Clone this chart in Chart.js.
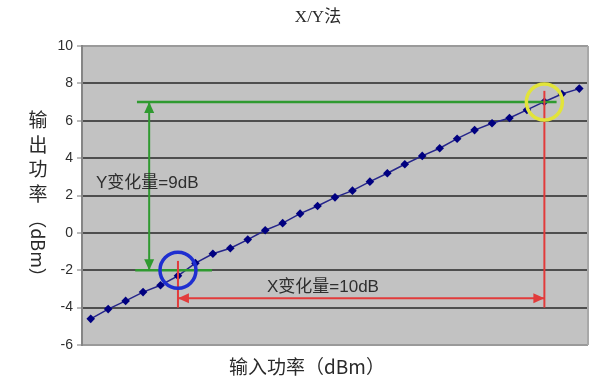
<!DOCTYPE html>
<html>
<head>
<meta charset="utf-8">
<script src="https://cdn.jsdelivr.net/npm/chart.js@4"></script>
<style>
  html, body { margin: 0; padding: 0; background: #fff; }
  #wrap { width: 593px; height: 387px; position: relative; }
</style>
</head>
<body>
<div id="wrap"><canvas id="chart"></canvas></div>
<script>
// ── Data ─────────────────────────────────────────────────
const inputPower = ['-5', '-4.5', '-4', '-3.5', '-3', '-2.5', '-2', '-1.5', '-1', '-0.5',
  '0', '0.5', '1', '1.5', '2', '2.5', '3', '3.5', '4', '4.5',
  '5', '5.5', '6', '6.5', '7', '7.5', '8', '8.5', '9'];
const outputPower = [-4.60, -4.08, -3.64, -3.17, -2.80, -2.30, -1.62, -1.12, -0.82, -0.36,
  0.14, 0.52, 1.03, 1.44, 1.90, 2.26, 2.74, 3.19, 3.67, 4.12,
  4.53, 5.04, 5.50, 5.87, 6.15, 6.58, 7.02, 7.43, 7.72];
const yMin = -6, yMax = 10, yStep = 2;

const chartTitle = 'X/Y法';
const xTitle = '输入功率（dBm）';
const yTitleChars = ['输', '出', '功', '率'];
const yTitleUnit = '（dBm）';

// ── Annotations (x in category index, y in dBm) ─────────
const marks = [
  { x: 5, y: -2, color: '#1f2fd0' },
  { x: 26, y: 7, color: '#e2e43a' }
];
const greenLines = [
  [2.65, 7, 26.7, 7],
  [2.55, -2, 6.95, -2]
];
const greenArrow = [3.35, 7, 3.35, -2];
const redLines = [
  [26, 7.6, 26, -4],
  [5, -1.5, 5, -4]
];
const redArrow = [5, -3.5, 26, -3.5];
const notes = [
  { text: 'Y变化量=9dB', x: 0.3, y: 2.67 },
  { text: 'X变化量=10dB', x: 10.1, y: -2.9 }
];

const SANS = '"Liberation Sans", "Noto Sans CJK SC", sans-serif';

function arrowHead(ctx, x1, y1, x2, y2, len, half) {
  const a = Math.atan2(y2 - y1, x2 - x1);
  ctx.beginPath();
  ctx.moveTo(x2, y2);
  ctx.lineTo(x2 - len * Math.cos(a) + half * Math.sin(a), y2 - len * Math.sin(a) - half * Math.cos(a));
  ctx.lineTo(x2 - len * Math.cos(a) - half * Math.sin(a), y2 - len * Math.sin(a) + half * Math.cos(a));
  ctx.closePath();
  ctx.fill();
}

function seg(ctx, xs, ys, l) {
  ctx.beginPath();
  ctx.moveTo(xs.getPixelForValue(l[0]), ys.getPixelForValue(l[1]));
  ctx.lineTo(xs.getPixelForValue(l[2]), ys.getPixelForValue(l[3]));
  ctx.stroke();
}

function doubleArrow(ctx, xs, ys, l) {
  const x1 = xs.getPixelForValue(l[0]), y1 = ys.getPixelForValue(l[1]);
  const x2 = xs.getPixelForValue(l[2]), y2 = ys.getPixelForValue(l[3]);
  ctx.beginPath();
  ctx.moveTo(x1, y1);
  ctx.lineTo(x2, y2);
  ctx.stroke();
  arrowHead(ctx, x1, y1, x2, y2, 11, 5);
  arrowHead(ctx, x2, y2, x1, y1, 11, 5);
}

// ── Plugins ──────────────────────────────────────────────
const plotBg = {
  id: 'plotBg',
  beforeDraw(chart) {
    const { ctx, chartArea: a } = chart;
    ctx.save();
    ctx.fillStyle = '#c2c2c2';
    ctx.fillRect(a.left, a.top, a.right - a.left, a.bottom - a.top);
    ctx.restore();
  },
  afterDraw(chart) {
    const { ctx, chartArea: a } = chart;
    ctx.save();
    ctx.strokeStyle = '#a8a8a8';
    ctx.lineWidth = 2;
    ctx.beginPath();
    ctx.moveTo(a.right, a.top);
    ctx.lineTo(a.right, a.bottom);
    ctx.stroke();
    ctx.restore();
  }
};

const annotations = {
  id: 'annotations',
  afterDatasetsDraw(chart) {
    const { ctx } = chart;
    const xs = chart.scales.x, ys = chart.scales.y;
    ctx.save();

    // green
    ctx.strokeStyle = '#2f9a30';
    ctx.fillStyle = '#2f9a30';
    ctx.lineWidth = 2.5;
    greenLines.forEach(l => seg(ctx, xs, ys, l));
    ctx.lineWidth = 2;
    doubleArrow(ctx, xs, ys, greenArrow);

    // red
    ctx.strokeStyle = '#e23b3b';
    ctx.fillStyle = '#e23b3b';
    ctx.lineWidth = 2;
    redLines.forEach(l => seg(ctx, xs, ys, l));
    doubleArrow(ctx, xs, ys, redArrow);

    // circles
    marks.forEach(m => {
      ctx.beginPath();
      ctx.strokeStyle = m.color;
      ctx.lineWidth = 3.5;
      ctx.arc(xs.getPixelForValue(m.x), ys.getPixelForValue(m.y), 18, 0, Math.PI * 2);
      ctx.stroke();
    });

    // notes
    ctx.fillStyle = '#2e2e2e';
    ctx.font = '17px ' + SANS;
    ctx.textAlign = 'left';
    ctx.textBaseline = 'middle';
    notes.forEach(n => ctx.fillText(n.text, xs.getPixelForValue(n.x), ys.getPixelForValue(n.y)));
    ctx.restore();
  }
};

const titles = {
  id: 'titles',
  afterDraw(chart) {
    const { ctx } = chart;
    ctx.save();
    ctx.fillStyle = '#2a2a2a';
    ctx.textAlign = 'center';
    ctx.textBaseline = 'middle';

    ctx.font = '17px "Liberation Serif", "Noto Sans CJK SC", serif';
    ctx.fillText(chartTitle, 318, 18);

    ctx.font = '19px "Noto Sans CJK SC", sans-serif';
    ctx.fillText(xTitle, 307, 367);

    yTitleChars.forEach((c, i) => ctx.fillText(c, 38, 120 + i * 24.5));
    ctx.translate(38, 248);
    ctx.rotate(Math.PI / 2);
    ctx.font = '18px "Noto Sans CJK SC", sans-serif';
    ctx.fillText(yTitleUnit, 0, 0);
    ctx.restore();
  }
};

// ── Chart ───────────────────────────────────────────────
new Chart(document.getElementById('chart'), {
  type: 'line',
  data: {
    labels: inputPower,
    datasets: [{
      data: outputPower,
      borderColor: '#25258a',
      borderWidth: 1.5,
      backgroundColor: '#000080',
      pointStyle: 'rectRot',
      pointRadius: 4.3,
      pointBorderWidth: 0,
      tension: 0
    }]
  },
  options: {
    responsive: true,
    maintainAspectRatio: false,
    animation: false,
    events: [],
    layout: { padding: { top: 46, right: 5, bottom: 42, left: 0 } },
    plugins: {
      legend: { display: false },
      tooltip: { enabled: false }
    },
    scales: {
      x: {
        type: 'category',
        display: false,
        offset: true
      },
      y: {
        min: yMin,
        max: yMax,
        afterFit: s => { s.width = 82; },
        ticks: {
          stepSize: yStep,
          color: '#2e2e2e',
          padding: 4,
          font: { size: 14, family: SANS }
        },
        grid: {
          color: c => (c.tick && (c.tick.value === yMin || c.tick.value === yMax)) ? '#9a9a9a' : '#4e4e4e',
          lineWidth: 2,
          tickLength: 5,
          tickColor: '#777',
          tickWidth: 1
        },
        border: { color: '#858585', width: 2 }
      }
    }
  },
  plugins: [plotBg, annotations, titles]
});
</script>
</body>
</html>
